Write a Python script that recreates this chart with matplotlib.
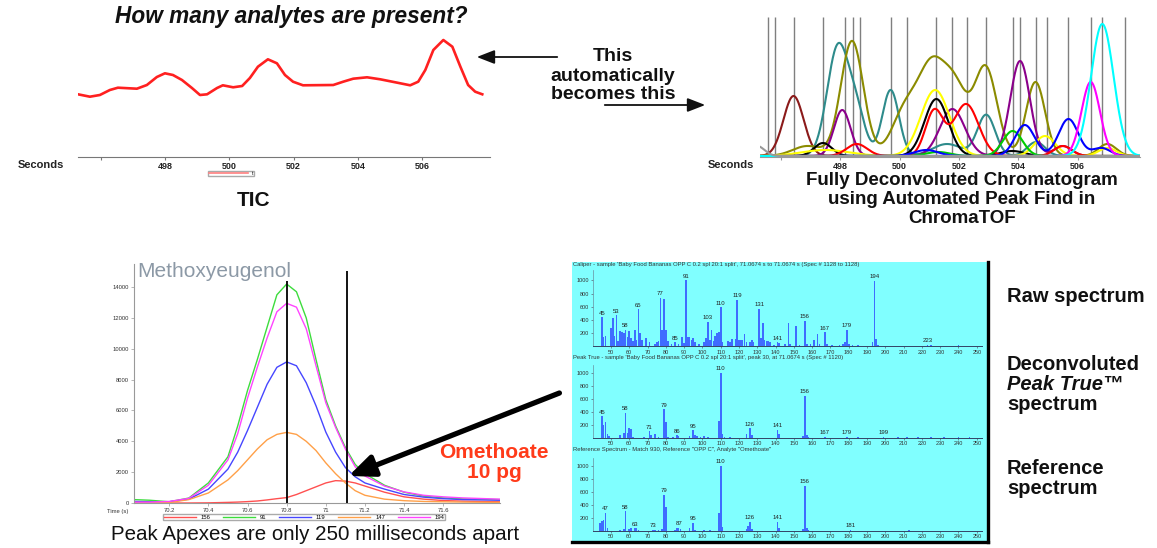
import numpy as np
import matplotlib
matplotlib.use('Agg')
import matplotlib.pyplot as plt
from matplotlib.lines import Line2D

plt.rcParams['font.family'] = ['Liberation Sans', 'DejaVu Sans']

W, H = 1157, 548

# ---- TIC trace (seconds, intensity) ----
tic_time = [495.30, 495.67, 495.98, 496.29, 496.54, 497.13, 497.44, 497.75, 498.00, 498.25,
            498.53, 498.84, 499.09, 499.31, 499.62, 499.80, 500.12, 500.40, 500.64, 500.89,
            501.20, 501.48, 501.73, 501.98, 502.29, 503.23, 503.54, 503.85, 504.28, 504.69,
            505.22, 505.62, 505.87, 506.09, 506.34, 506.65, 506.93, 507.18, 507.42, 507.64,
            507.86]
tic_signal = [62.7, 60.3, 62.0, 67.0, 69.3, 68.3, 72.0, 80.0, 83.7, 82.0,
              77.0, 69.0, 62.0, 62.7, 69.0, 71.7, 69.7, 71.0, 79.0, 90.3,
              97.7, 93.7, 82.0, 75.3, 71.7, 72.0, 75.3, 78.3, 79.7, 77.7,
              74.3, 71.7, 75.3, 87.0, 107.0, 117.0, 110.3, 90.3, 72.0, 65.3,
              62.7]
tic_ticks = [496, 498, 500, 502, 504, 506]
tic_ticklabels = ['', '498', '500', '502', '504', '506']

# ---- deconvoluted peaks: (apex s, height, sigma s) per trace colour ----
decon_colors = ['#8b1a1a', '#2e8b8b', '#8b8b00', '#8b008b', '#000000', '#ffff00',
                '#ff0000', '#00cc00', '#0000ff', '#ff00ff', '#00ffff', '#999999']
decon_peaks = [
    [(496.43, 60, 0.34)],
    [(497.92, 108, 0.36), (498.55, 40, 0.30), (499.70, 66, 0.28), (501.60, 12, 0.50),
     (502.92, 41, 0.30), (504.60, 14, 0.30)],
    [(496.90, 10, 0.50), (498.40, 115, 0.38), (500.20, 45, 0.45), (501.10, 85, 0.45),
     (501.90, 60, 0.40), (502.90, 88, 0.38), (504.58, 74, 0.32), (507.00, 12, 0.30)],
    [(498.07, 46, 0.28), (501.78, 47, 0.42), (504.06, 95, 0.33), (505.50, 10, 0.30)],
    [(497.42, 13, 0.30), (501.24, 57, 0.40), (503.80, 5, 0.40)],
    [(497.50, 6, 0.80), (501.20, 66, 0.48), (504.90, 20, 0.35), (507.00, 8, 0.30)],
    [(498.56, 12, 0.35), (501.17, 45, 0.30), (502.24, 52, 0.42), (505.50, 10, 0.30)],
    [(501.30, 4, 0.40), (503.81, 25, 0.33)],
    [(500.90, 6, 0.40), (504.22, 31, 0.33), (505.69, 37, 0.33), (506.80, 8, 0.30)],
    [(506.44, 74, 0.31)],
    [(506.83, 132, 0.38)],
    [(495.20, 10, 0.25)],
]
apex_marks = [495.56, 495.80, 496.44, 497.42, 498.17, 498.42, 498.67, 499.70, 500.24,
              501.24, 501.78, 502.28, 502.92, 503.83, 504.06, 504.58, 504.97, 505.69,
              506.44, 506.83, 507.59]

# ---- Methoxyeugenol ion traces ----
mx_time = [70.02, 70.1, 70.2, 70.3, 70.4, 70.5, 70.55, 70.6, 70.65, 70.7, 70.75, 70.8, 70.85,
           70.9, 70.95, 71.0, 71.05, 71.1, 71.15, 71.2, 71.3, 71.4, 71.5, 71.6, 71.7, 71.89]
mx_156 = [0, 0, 0, 0, 10, 40, 60, 90, 130, 200, 280, 350, 550,
          800, 1050, 1300, 1450, 1420, 1300, 1100, 700, 400, 250, 160, 120, 80]
mx_91 = [220, 180, 80, 320, 1300, 3000, 5000, 7300, 9300, 11400, 13500, 14200, 13700,
         12000, 9300, 6700, 5000, 3600, 2500, 1900, 1150, 700, 450, 330, 270, 220]
mx_119 = [100, 80, 80, 250, 900, 2200, 3300, 4700, 6200, 7700, 8800, 9150, 8900,
          7800, 6300, 4600, 3300, 2300, 1700, 1300, 900, 550, 380, 280, 220, 180]
mx_147 = [20, 20, 30, 220, 650, 1500, 2100, 2800, 3500, 4100, 4450, 4580, 4450,
          4000, 3400, 2600, 1900, 1300, 800, 500, 250, 150, 100, 80, 60, 40]
mx_194 = [60, 60, 100, 300, 1150, 2800, 4500, 6800, 8800, 10700, 12400, 12950, 12700,
          11300, 8900, 6500, 4900, 3500, 2350, 1750, 1100, 720, 500, 400, 330, 250]
mx_ions = ['156', '91', '119', '147', '194']
mx_colors = ['#ff5050', '#3ddc3d', '#4646ff', '#ffa048', '#ff44ff']
mx_apex = [70.8, 71.11]
mx_apex_top = [14370, 15020]

# ---- mass spectra ----
raw_mz = [45, 46, 47, 50, 51, 52, 53, 54, 55, 56, 57, 58, 59, 60, 61, 62, 63, 64, 65, 66,
          67, 69, 71, 74, 75, 76, 77, 78, 79, 80, 81, 83, 85, 87, 89, 90, 91, 92, 93, 94,
          95, 96, 98, 101, 102, 103, 104, 105, 106, 107, 108, 109, 110, 111, 114, 115, 116, 118, 119, 120,
          121, 122, 123, 124, 126, 127, 128, 131, 132, 133, 134, 135, 136, 137, 139, 141, 142, 145, 147, 148,
          151, 153, 156, 157, 159, 161, 163, 164, 167, 168, 171, 175, 177, 178, 179, 180, 182, 185, 190, 193,
          194, 195, 196, 205, 210, 215, 220, 223, 225, 230, 235, 240, 245]
raw_int = [440, 140, 150, 280, 430, 160, 470, 80, 230, 220, 200, 250, 140, 230, 130, 80, 250, 100, 560, 200,
           100, 120, 60, 40, 60, 80, 730, 250, 720, 250, 80, 30, 60, 30, 140, 50, 1000, 140, 140, 100,
           120, 60, 30, 60, 130, 370, 100, 250, 80, 150, 200, 220, 590, 60, 80, 70, 110, 110, 700, 90,
           100, 90, 180, 60, 70, 100, 60, 570, 120, 350, 100, 80, 80, 60, 20, 60, 50, 30, 350, 40,
           310, 20, 390, 40, 30, 100, 180, 40, 210, 40, 20, 15, 30, 60, 250, 40, 20, 15, 10, 60,
           990, 110, 20, 10, 10, 12, 12, 20, 15, 10, 12, 15, 10]
raw_labels = [45, 53, 58, 65, 77, 85, 91, 103, 110, 119, 131, 141, 156, 167, 179, 194, 223]

pt_mz = [45, 46, 47, 48, 49, 55, 57, 58, 59, 60, 61, 62, 68, 71, 72, 74, 76, 79, 80, 81,
         84, 86, 87, 93, 95, 96, 97, 99, 101, 103, 109, 110, 111, 112, 115, 124, 126, 127, 141, 142,
         155, 156, 157, 158, 167, 179, 185, 199, 207, 212, 218, 225, 232, 240, 246]
pt_int = [330, 200, 240, 60, 30, 40, 70, 390, 80, 150, 140, 20, 20, 100, 40, 60, 20, 440, 240, 20,
          20, 40, 30, 30, 120, 50, 30, 20, 30, 20, 260, 1000, 60, 20, 10, 60, 150, 40, 130, 60,
          30, 650, 40, 20, 20, 20, 10, 15, 10, 10, 10, 10, 10, 10, 10]
pt_labels = [45, 58, 71, 79, 86, 95, 110, 126, 141, 156, 167, 179, 199]

ref_mz = [44, 45, 46, 47, 48, 55, 57, 58, 60, 61, 63, 64, 65, 73, 74, 76, 78, 79, 80, 85,
          86, 87, 88, 93, 95, 96, 101, 104, 109, 110, 111, 124, 125, 126, 127, 141, 142, 155, 156, 157,
          158, 181, 213]
ref_int = [130, 150, 170, 280, 40, 20, 30, 300, 30, 40, 40, 40, 20, 20, 10, 20, 30, 550, 370, 20,
           40, 50, 30, 40, 130, 20, 10, 10, 270, 1000, 60, 30, 80, 140, 30, 140, 40, 30, 690, 40,
           20, 15, 10]
ref_labels = [47, 58, 63, 73, 79, 87, 95, 110, 126, 141, 156, 181]

raw_header = ("Caliper - sample 'Baby Food Bananas OPP C 0.2 spl 20:1 split', "
              "71.0674 s to 71.0674 s (Spec # 1128 to 1128)")
pt_header = ("Peak True - sample 'Baby Food Bananas OPP C 0.2 spl 20:1 split', "
             "peak 30, at 71.0674 s (Spec # 1120)")
ref_header = 'Reference Spectrum - Match 930, Reference "OPP C", Analyte "Omethoate"'


def box(x0, y0, x1, y1):
    # pixel box (top-left origin) -> figure fraction rect
    return [x0 / W, 1 - y1 / H, (x1 - x0) / W, (y1 - y0) / H]


def bold_ticks(ax):
    for lab in ax.get_xticklabels():
        lab.set_fontweight('bold')


fig = plt.figure(figsize=(W / 100, H / 100), dpi=100)

# TIC panel
ax = fig.add_axes(box(78, 30, 490, 157))
ax.plot(tic_time, tic_signal, color='#ff2020', lw=1.9)
ax.set_xlim(495.3, 508.1)
ax.set_ylim(0, 127)
ax.set_xticks(tic_ticks)
ax.set_xticklabels(tic_ticklabels)
ax.set_yticks([])
for s in ['top', 'right', 'left']:
    ax.spines[s].set_visible(False)
ax.spines['bottom'].set_color('#777777')
ax.tick_params(axis='x', labelsize=6.5, length=2.5, color='#777777', labelcolor='#222222', pad=1)
bold_ticks(ax)
ax.legend(handles=[Line2D([], [], color='#ff8080', lw=1.2)], labels=['t'],
          loc='center', bbox_to_anchor=(231 / W, 1 - 173.5 / H), bbox_transform=fig.transFigure,
          fontsize=3.5, handlelength=8, handletextpad=0.8, borderpad=0.1,
          fancybox=False, edgecolor='#aaaaaa', framealpha=1)

# deconvoluted chromatogram panel
ax = fig.add_axes(box(760, 17, 1140, 157))
grid = np.linspace(495.3, 508.1, 800)
ax.vlines(apex_marks, 0, 140, color='#7f7f7f', lw=1.0, zorder=1)
for color, peaks in zip(decon_colors, decon_peaks):
    trace = np.zeros_like(grid)
    for apex, height, sigma in peaks:
        trace += height * np.exp(-0.5 * ((grid - apex) / sigma) ** 2)
    ax.plot(grid, trace + 1.0, color=color, lw=1.5, zorder=2)
ax.set_xlim(495.3, 508.1)
ax.set_ylim(0, 140)
ax.set_xticks(tic_ticks)
ax.set_xticklabels(tic_ticklabels)
ax.set_yticks([])
for s in ['top', 'right', 'left']:
    ax.spines[s].set_visible(False)
ax.spines['bottom'].set_color('#999999')
ax.tick_params(axis='x', labelsize=6.5, length=2.5, color='#999999', labelcolor='#222222', pad=1)
bold_ticks(ax)

# Methoxyeugenol ion chromatogram
ax = fig.add_axes(box(134, 264, 500, 503))
for name, color, vals in zip(mx_ions, mx_colors, [mx_156, mx_91, mx_119, mx_147, mx_194]):
    ax.plot(mx_time, vals, color=color, lw=1.0, label=name)
for t, top in zip(mx_apex, mx_apex_top):
    ax.vlines(t, -100, top, color='black', lw=1.3, zorder=5)
ax.set_xlim(70.02, 71.89)
ax.set_ylim(0, 15500)
ax.set_xticks([70.2, 70.4, 70.6, 70.8, 71.0, 71.2, 71.4, 71.6])
ax.set_xticklabels(['70.2', '70.4', '70.6', '70.8', '71', '71.2', '71.4', '71.6'])
ax.set_yticks(range(0, 14001, 2000))
for s in ['top', 'right']:
    ax.spines[s].set_visible(False)
for s in ['left', 'bottom']:
    ax.spines[s].set_color('#999999')
    ax.spines[s].set_linewidth(0.8)
ax.tick_params(labelsize=4.2, length=2, width=0.5, color='#999999', labelcolor='#333333', pad=1.5)
ax.text(-0.075, -0.035, 'Time (s)', transform=ax.transAxes, fontsize=4.2, color='#333333',
        va='center')
ax.text(0.01, 1.01, 'Methoxyeugenol', transform=ax.transAxes, fontsize=15, color='#8c99a6',
        va='top', ha='left')
ax.legend(loc='center', bbox_to_anchor=(304 / W, 1 - 517 / H), bbox_transform=fig.transFigure,
          ncol=5, fontsize=4.2, handlelength=5.5, handletextpad=0.8, columnspacing=2.2,
          borderpad=0.15, fancybox=False, edgecolor='#aaaaaa', framealpha=1)

# spectra background with frame
bg = fig.add_axes(box(572, 262, 988, 542))
bg.set_facecolor('#80ffff')
bg.set_xticks([])
bg.set_yticks([])
for s in ['top', 'left']:
    bg.spines[s].set_visible(False)
for s in ['right', 'bottom']:
    bg.spines[s].set_color('black')
    bg.spines[s].set_linewidth(2.4)


def spectrum(rect, mz, inten, labels, header, header_y, ymax):
    sax = fig.add_axes(rect)
    sax.patch.set_alpha(0)
    sax.bar(mz, inten, width=0.9, color='#3f6cff', linewidth=0)
    for m in labels:
        sax.text(m, inten[mz.index(m)] + 25, str(m), ha='center', va='bottom',
                 fontsize=4.3, color='#222222')
    sax.set_xlim(40, 252.7)
    sax.set_ylim(0, ymax)
    sax.set_xticks(range(50, 251, 10))
    sax.set_yticks(range(200, 1001, 200))
    for s in ['top', 'right']:
        sax.spines[s].set_visible(False)
    sax.spines['left'].set_color('#6a8fa0')
    sax.spines['left'].set_linewidth(0.5)
    sax.spines['bottom'].set_color('#334466')
    sax.spines['bottom'].set_linewidth(0.7)
    sax.tick_params(labelsize=4, length=1.5, width=0.5, color='#556677',
                    labelcolor='#333333', pad=1)
    fig.text(573 / W, 1 - header_y / H, header, fontsize=4.2, color='#333333', va='center')
    return sax


spectrum(box(592.7, 270.4, 981.7, 346.3), raw_mz, raw_int, raw_labels, raw_header, 265, 1150)
spectrum(box(592.7, 364.9, 981.7, 438.0), pt_mz, pt_int, pt_labels, pt_header, 357.7, 1120)
spectrum(box(592.7, 457.9, 981.7, 531.0), ref_mz, ref_int, ref_labels, ref_header, 450, 1120)

# overlay for slide text and arrows (pixel coordinates)
ov = fig.add_axes([0, 0, 1, 1])
ov.set_xlim(0, W)
ov.set_ylim(H, 0)
ov.axis('off')

ov.text(291.5, 17, 'How many analytes are present?', fontsize=16.3, fontweight='bold',
        style='italic', ha='center', va='center', color='#111111')
for txt, y in [('This', 56.7), ('automatically', 76.7), ('becomes this', 94.5)]:
    ov.text(613, y, txt, fontsize=14, fontweight='bold', ha='center', va='center', color='#111111')
ov.annotate('', xy=(474, 57), xytext=(560, 57),
            arrowprops=dict(arrowstyle='-|>,head_length=0.9,head_width=0.35',
                            color='#111111', lw=1.3, mutation_scale=12))
ov.annotate('', xy=(708, 105), xytext=(602, 105),
            arrowprops=dict(arrowstyle='-|>,head_length=0.9,head_width=0.35',
                            color='#111111', lw=1.3, mutation_scale=12))
ov.text(41, 165, 'Seconds', fontsize=8, fontweight='bold', ha='center', va='center',
        color='#222222')
ov.text(731, 165, 'Seconds', fontsize=8, fontweight='bold', ha='center', va='center',
        color='#222222')
ov.text(254, 200, 'TIC', fontsize=15, fontweight='bold', ha='center', va='center',
        color='#111111')
for txt, y in [('Fully Deconvoluted Chromatogram', 180.5), ('using Automated Peak Find in', 199.5),
               ('ChromaTOF', 218.5)]:
    ov.text(962, y, txt, fontsize=13.5, fontweight='bold', ha='center', va='center', color='#111111')

ov.text(315, 535, 'Peak Apexes are only 250 milliseconds apart', fontsize=14.8, ha='center',
        va='center', color='#111111')
ov.text(494, 452, 'Omethoate', fontsize=15, fontweight='bold', ha='center', va='center',
        color='#ff3b1a')
ov.text(494, 473, '10 pg', fontsize=15, fontweight='bold', ha='center', va='center',
        color='#ff3b1a')
ov.annotate('', xy=(346, 477), xytext=(562, 392),
            arrowprops=dict(arrowstyle='-|>,head_length=0.7,head_width=0.3',
                            color='black', lw=3.8, mutation_scale=22))

for txt, y, st in [('Raw spectrum', 296.7, 'normal'), ('Deconvoluted', 365, 'normal'),
                   ('Peak True\u2122', 385, 'italic'), ('spectrum', 405, 'normal'),
                   ('Reference', 468.3, 'normal'), ('spectrum', 488.3, 'normal')]:
    ov.text(1007, y, txt, fontsize=14.5, fontweight='bold', style=st, va='center',
            color='#111111')

fig.savefig('out.png', dpi=100)
